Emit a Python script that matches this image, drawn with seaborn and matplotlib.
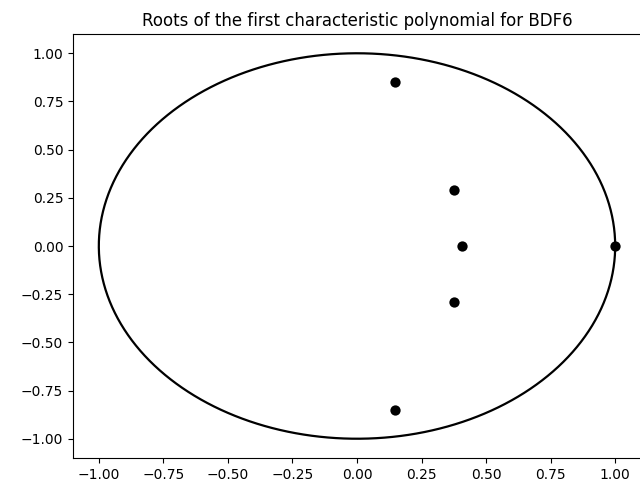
import numpy as np
import pandas as pd
import matplotlib
matplotlib.use("Agg")
import matplotlib.pyplot as plt
import seaborn as sns

root_re = [1.0, 0.406, 0.375, 0.375, 0.146, 0.146]
root_im = [0.0, 0.0, 0.288, -0.288, 0.851, -0.851]
ticks = [-1.0, -0.75, -0.5, -0.25, 0.0, 0.25, 0.5, 0.75, 1.0]
title = "Roots of the first characteristic polynomial for BDF6"

# unit circle
theta = np.linspace(0, 2 * np.pi, 400)
circle = pd.DataFrame({"x": np.cos(theta), "y": np.sin(theta)})
roots = pd.DataFrame({"re": root_re, "im": root_im})

fig = plt.figure(figsize=(6.4, 4.88), dpi=100)
ax = fig.add_axes([73 / 640, 30 / 488, 568 / 640, 424 / 488])

sns.lineplot(data=circle, x="x", y="y", sort=False, estimator=None,
             color="black", linewidth=1.6, ax=ax)
sns.scatterplot(data=roots, x="re", y="im", color="black", s=55,
                edgecolor="black", linewidth=0, ax=ax, zorder=3)

ax.set_xlim(-1.1, 1.1)
ax.set_ylim(-1.1, 1.1)
ax.set_xticks(ticks)
ax.set_yticks(ticks)
ax.set_xlabel("")
ax.set_ylabel("")
ax.set_title(title, fontsize=12)

fig.savefig("out.png", dpi=100)
